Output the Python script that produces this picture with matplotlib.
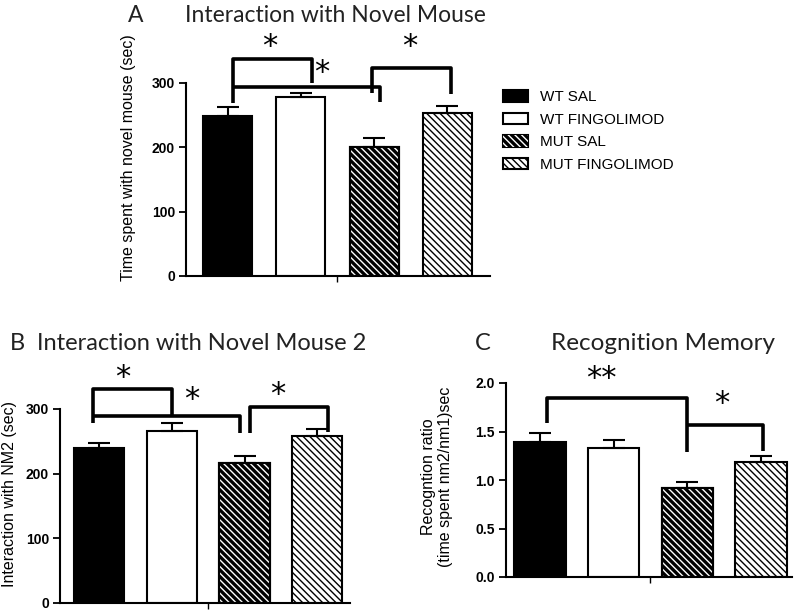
import matplotlib
matplotlib.use('Agg')
import matplotlib.pyplot as plt
from matplotlib.patches import Patch
from matplotlib.legend_handler import HandlerTuple

plt.rcParams['font.family'] = ['Liberation Sans', 'DejaVu Sans']

# ── data ─────────────────────────────────────────────────────────────────────
groups = ['WT SAL', 'WT FINGOLIMOD', 'MUT SAL', 'MUT FINGOLIMOD']

a_mean = [248, 278, 200, 253]
a_err  = [14, 6, 15, 11]

b_mean = [240, 266, 216, 258]
b_err  = [8, 12, 11, 11]

c_mean = [1.39, 1.33, 0.92, 1.185]
c_err  = [0.095, 0.08, 0.055, 0.065]

# significance brackets: (x_left, x_right, y_top, y_left_end, y_right_end)
a_brackets = [(0.08, 1.15, 337, 269, 300),
              (0.08, 2.08, 294, 294, 270),
              (1.97, 3.05, 323, 285, 283)]
a_stars = [(0.58, 356, '*'), (1.29, 317, '*'), (2.48, 356, '*')]

b_brackets = [(-0.08, 1.00, 331, 278, 291),
              (-0.08, 1.94, 289, 289, 263),
              (2.08, 3.15, 303, 263, 264)]
b_stars = [(0.33, 349, '*'), (1.28, 314, '*'), (2.46, 322, '*')]

c_brackets = [(0.095, 1.99, 1.845, 1.59, 1.29),
              (1.99, 3.03, 1.57, 1.57, 1.30)]
c_stars = [(0.84, 2.05, '**'), (2.47, 1.79, '*')]

HATCH = '\\' * 5


def draw_panel(ax, means, errs, brackets, stars, ylim, yticks, fmt, xlim, width):
    xs = range(len(means))
    # WT SAL – solid black
    ax.bar(0, means[0], width, color='black', edgecolor='black', linewidth=1.5)
    # WT FINGOLIMOD – white
    ax.bar(1, means[1], width, color='white', edgecolor='black', linewidth=1.5)
    # MUT SAL – black with white stripes
    ax.bar(2, means[2], width, color='black', edgecolor='black', linewidth=1.5)
    ax.bar(2, means[2], width * 0.97, color='none', edgecolor='white',
           hatch=HATCH, linewidth=0)
    ax.bar(2, means[2], width, color='none', edgecolor='black', linewidth=1.5)
    # MUT FINGOLIMOD – white with black stripes
    ax.bar(3, means[3], width, color='white', edgecolor='black',
           hatch=HATCH, linewidth=1.5)

    ax.errorbar(list(xs), means, yerr=[[0] * len(errs), errs], fmt='none',
                ecolor='black', elinewidth=1.5, capsize=8, capthick=1.5,
                zorder=1)

    for xl, xr, yt, yle, yre in brackets:
        ax.plot([xl, xl, xr, xr], [yle, yt, yt, yre], color='black', lw=2.6,
                solid_joinstyle='round', solid_capstyle='butt', clip_on=False)
    for x, y, s in stars:
        ax.text(x, y, s, ha='center', va='center', fontsize=22,
                family='DejaVu Sans', clip_on=False)

    ax.set_xlim(*xlim)
    ax.set_ylim(*ylim)
    ax.set_yticks(yticks)
    ax.set_yticklabels([fmt.format(t) for t in yticks], fontweight='bold',
                       fontsize=10)
    ax.set_xticks([1.5])
    ax.set_xticklabels([''])
    ax.tick_params(axis='y', direction='out', length=5, width=1.3, pad=3)
    ax.tick_params(axis='x', direction='out', length=4, width=1.0)
    for side in ('top', 'right'):
        ax.spines[side].set_visible(False)
    for side in ('left', 'bottom'):
        ax.spines[side].set_linewidth(1.5)


fig = plt.figure(figsize=(8, 6.12), dpi=100)

W, H = 800, 612


def px_axes(l, t, r, b):
    return fig.add_axes([l / W, 1 - b / H, (r - l) / W, (b - t) / H])


ax_a = px_axes(186, 83, 490, 276)
draw_panel(ax_a, a_mean, a_err, a_brackets, a_stars, (0, 300),
           [0, 100, 200, 300], '{:.0f}', (-0.566, 3.58), 0.67)

ax_b = px_axes(60, 409, 350, 603)
draw_panel(ax_b, b_mean, b_err, b_brackets, b_stars, (0, 300),
           [0, 100, 200, 300], '{:.0f}', (-0.536, 3.45), 0.69)

ax_c = px_axes(506, 383, 792, 577)
draw_panel(ax_c, c_mean, c_err, c_brackets, c_stars, (0, 2.0),
           [0.0, 0.5, 1.0, 1.5, 2.0], '{:.1f}', (-0.46, 3.42), 0.70)

# ── titles, panel letters, y labels ─────────────────────────────────────────
title_kw = dict(family=['Lato', 'DejaVu Sans'], color='#222222',
                va='center', ha='left')
fig.text(128 / W, 1 - 15 / H, 'A', fontsize=16.5, **title_kw)
fig.text(185 / W, 1 - 15 / H, 'Interaction with Novel Mouse', fontsize=16.5,
         **title_kw)
fig.text(10 / W, 1 - 344 / H, 'B', fontsize=17, **title_kw)
fig.text(37 / W, 1 - 344 / H, 'Interaction with Novel Mouse 2', fontsize=17,
         **title_kw)
fig.text(475 / W, 1 - 344 / H, 'C', fontsize=17, **title_kw)
fig.text(551 / W, 1 - 344 / H, 'Recognition Memory', fontsize=17.5,
         **title_kw)

lab_kw = dict(rotation=90, ha='center', va='center', fontsize=11.5)
fig.text(128 / W, 1 - 158 / H, 'Time spent with novel mouse (sec)', **lab_kw)
fig.text(10 / W, 1 - 494 / H, 'Interaction with NM2 (sec)', **lab_kw)
fig.text(437 / W, 1 - 477 / H,
         'Recogntion ratio\n(time spent nm2/nm1)sec', linespacing=1.1,
         **lab_kw)

# ── legend ───────────────────────────────────────────────────────────────────
handles = [
    Patch(facecolor='black', edgecolor='black', linewidth=1.5),
    Patch(facecolor='white', edgecolor='black', linewidth=1.5),
    (Patch(facecolor='black', edgecolor='black', linewidth=1.5),
     Patch(facecolor='none', edgecolor='white', hatch=HATCH, linewidth=0)),
    Patch(facecolor='white', edgecolor='black', hatch=HATCH, linewidth=1.5),
]
fig.legend(handles, groups, loc='upper left',
           bbox_to_anchor=(497 / W, 1 - 84 / H), frameon=False, fontsize=11,
           handlelength=1.6, handleheight=0.8, handletextpad=0.8,
           labelspacing=0.55, borderaxespad=0,
           handler_map={tuple: HandlerTuple(ndivide=1, pad=0)})

fig.savefig('out.png', dpi=100)
